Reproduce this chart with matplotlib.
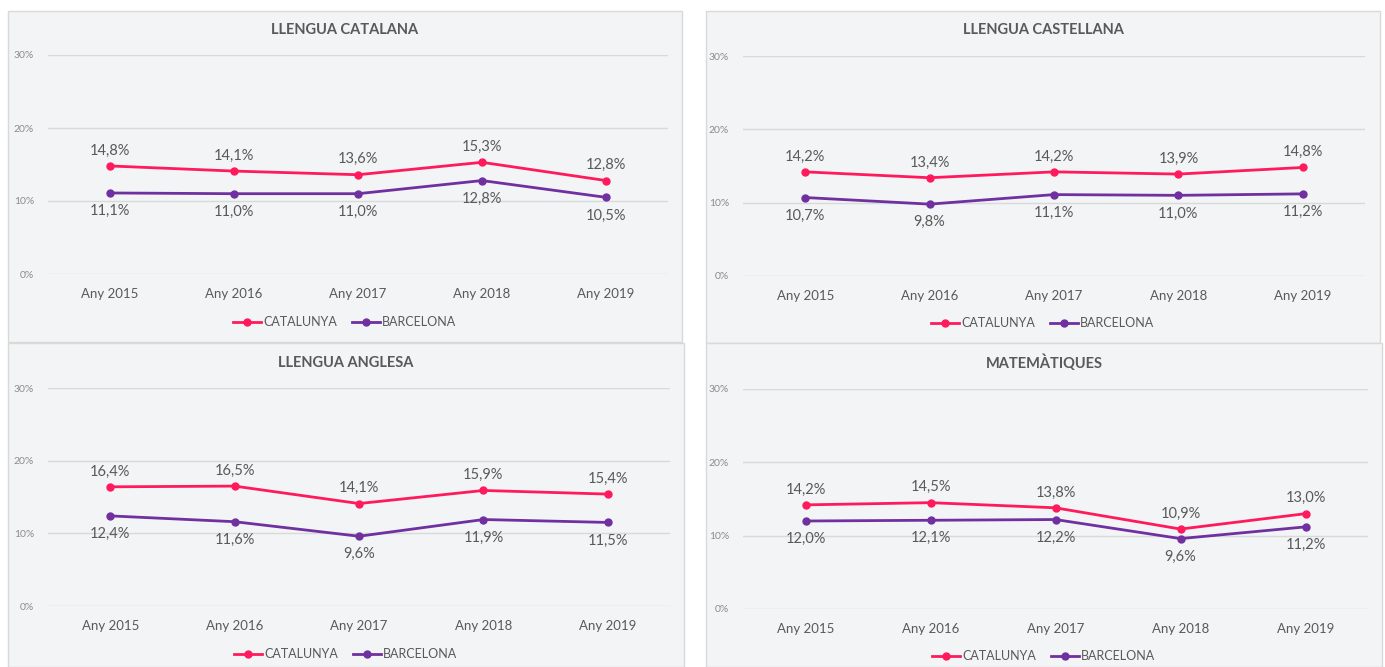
import matplotlib
matplotlib.use("Agg")
import matplotlib.pyplot as plt
from matplotlib.patches import Rectangle
from matplotlib.ticker import FuncFormatter

W, H = 1385, 667

years = ["Any 2015", "Any 2016", "Any 2017", "Any 2018", "Any 2019"]
titles = ["LLENGUA CATALANA", "LLENGUA CASTELLANA", "LLENGUA ANGLESA", "MATEMÀTIQUES"]

catalunya_catalana = [14.8, 14.1, 13.6, 15.3, 12.8]
barcelona_catalana = [11.1, 11.0, 11.0, 12.8, 10.5]
catalunya_castellana = [14.2, 13.4, 14.2, 13.9, 14.8]
barcelona_castellana = [10.7, 9.8, 11.1, 11.0, 11.2]
catalunya_anglesa = [16.4, 16.5, 14.1, 15.9, 15.4]
barcelona_anglesa = [12.4, 11.6, 9.6, 11.9, 11.5]
catalunya_mates = [14.2, 14.5, 13.8, 10.9, 13.0]
barcelona_mates = [12.0, 12.1, 12.2, 9.6, 11.2]

series = [
    (catalunya_catalana, barcelona_catalana),
    (catalunya_castellana, barcelona_castellana),
    (catalunya_anglesa, barcelona_anglesa),
    (catalunya_mates, barcelona_mates),
]

PINK = "#ff1a5c"
PURPLE = "#7030a0"
TXT = "#595959"
GRID = "#d9d9d9"
FONT = ["Lato", "DejaVu Sans"]

plt.rcParams["font.family"] = FONT

# panel boxes (px): left, top, right, bottom
panels = [(8, 11, 682, 342), (706, 11, 1380, 343), (8, 343, 684, 667), (706, 343, 1382, 667)]
# plot areas (px): left, right, y of 30%, y of 0%
areas = [(48, 668, 55, 274), (743, 1365, 56, 276), (48, 670, 388, 606), (743, 1368, 389, 609)]
# title and legend rows (px)
title_y = [30, 30, 363, 363]
legend_y = [322, 323, 654, 656]

fig = plt.figure(figsize=(W / 100, H / 100), dpi=100)
fig.patch.set_facecolor("white")

for i, (box, area, (cat, bcn)) in enumerate(zip(panels, areas, series)):
    l, t, r, b = box
    fig.patches.append(Rectangle((l / W, 1 - b / H), (r - l) / W, (b - t) / H,
                                 transform=fig.transFigure, facecolor="#f3f4f6",
                                 edgecolor="#d9d9d9", lw=1, zorder=-5))
    x0, x1, y30, y0 = area
    ax = fig.add_axes([x0 / W, 1 - y0 / H, (x1 - x0) / W, (y0 - y30) / H])
    ax.set_facecolor("none")
    ax.set_xlim(-0.5, 4.5)
    ax.set_ylim(0, 30)
    ax.set_yticks([0, 10, 20, 30])
    ax.yaxis.set_major_formatter(FuncFormatter(lambda v, p: f"{v:.0f}%"))
    ax.grid(axis="y", color=GRID, lw=1)
    ax.set_axisbelow(True)
    for s in ax.spines.values():
        s.set_visible(False)
    ax.tick_params(axis="y", length=0, labelsize=7.5, labelcolor="#8c8c8c", pad=10)
    ax.tick_params(axis="x", length=0, labelsize=9.5, labelcolor=TXT, pad=10)
    xs = range(len(years))
    ax.set_xticks(list(xs))
    ax.set_xticklabels(years)
    ax.plot(xs, cat, color=PINK, lw=2.0, marker="o", ms=5, label="CATALUNYA", zorder=3)
    ax.plot(xs, bcn, color=PURPLE, lw=2.0, marker="o", ms=5, label="BARCELONA", zorder=3)
    for x, v in zip(xs, cat):
        ax.annotate(f"{v:.1f}".replace(".", ",") + "%", (x, v), xytext=(0, 6),
                    textcoords="offset points", ha="center", va="bottom", fontsize=10.5, color=TXT)
    for x, v in zip(xs, bcn):
        ax.annotate(f"{v:.1f}".replace(".", ",") + "%", (x, v), xytext=(0, -8),
                    textcoords="offset points", ha="center", va="top", fontsize=10.5, color=TXT)
    cx = (l + r) / 2 / W
    fig.text(cx, 1 - title_y[i] / H, titles[i], ha="center", va="center",
             fontsize=10.5, fontweight="bold", color=TXT)
    fig.legend(handles=ax.get_lines(), loc="center", bbox_to_anchor=(cx, 1 - legend_y[i] / H),
               ncol=2, frameon=False, fontsize=9, handlelength=2.2, handletextpad=0.2,
               columnspacing=1.2, labelcolor=TXT)

fig.savefig("out.png", dpi=100)
